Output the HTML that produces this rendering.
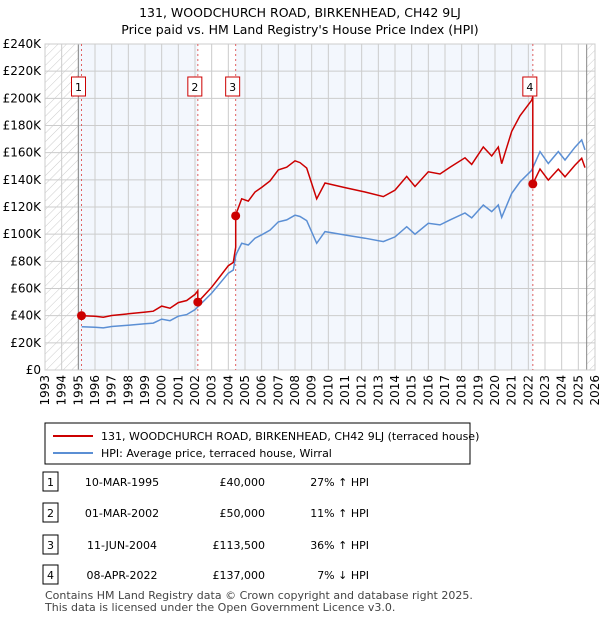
<!DOCTYPE html>
<html><head><meta charset="utf-8"><style>
body{margin:0;background:#fff;font-family:"Liberation Sans","DejaVu Sans",sans-serif;}
svg text{font-family:"DejaVu Sans","Liberation Sans",sans-serif;}
</style></head><body>
<svg id="c" width="600" height="620" xmlns="http://www.w3.org/2000/svg">
<defs><pattern id="hatch" width="6" height="6" patternUnits="userSpaceOnUse" patternTransform="rotate(45)"><line x1="0" y1="0" x2="0" y2="6" stroke="#ccc" stroke-width="1"/></pattern></defs>
<text x="300" y="17" text-anchor="middle" font-size="12.5">131, WOODCHURCH ROAD, BIRKENHEAD, CH42 9LJ</text>
<text x="300" y="34" text-anchor="middle" font-size="12.5">Price paid vs. HM Land Registry's House Price Index (HPI)</text>
<g id="plot"></g>
<rect x="45" y="423" width="425" height="41" fill="#fff" stroke="#000"/>
<line x1="53" y1="436" x2="93" y2="436" stroke="#cc0000" stroke-width="2"/>
<text x="101" y="440" font-size="11">131, WOODCHURCH ROAD, BIRKENHEAD, CH42 9LJ (terraced house)</text>
<line x1="53" y1="453" x2="93" y2="453" stroke="#5b8fd4" stroke-width="2"/>
<text x="101" y="457" font-size="11">HPI: Average price, terraced house, Wirral</text>
<g id="tbl"></g>
<text x="45" y="599" font-size="11" fill="#444">Contains HM Land Registry data © Crown copyright and database right 2025.</text>
<text x="45" y="611" font-size="11" fill="#444">This data is licensed under the Open Government Licence v3.0.</text>
</svg>
<script>
const hpiYears=[1995.2,1996,1996.5,1997,1998,1999,1999.5,2000,2000.5,2001,2001.5,2002,2002.5,2003,2003.5,2004,2004.3,2004.44,2004.5,2004.8,2005.2,2005.6,2006,2006.5,2007,2007.5,2008,2008.3,2008.7,2009.3,2009.8,2011,2012.2,2013.3,2014,2014.7,2015.2,2016,2016.7,2017.3,2018.2,2018.6,2019.3,2019.8,2020.2,2020.4,2021,2021.5,2022.2,2022.7,2023.2,2023.8,2024.2,2024.8,2025.2,2025.4];
const hpiValues=[31.9,31.5,31,32,33,34,34.5,37.5,36.3,39.6,40.8,44.4,50.4,56.6,63.9,71.3,73.6,84,86,93.3,92,97,99.5,103,109,110.5,114,113,110,93.3,101.9,99.4,97,94.5,98,105.5,100,108,106.8,110.5,115.6,112,121.5,116.6,121.5,112.4,130,138.5,147,160.8,152,160.8,154.6,164,169.4,162];
const saleDates=[1995.19,2002.17,2004.44,2022.27];
const salePrices=[40,50,113.5,137];
const saleLabels=["1","2","3","4"];
const saleDateText=["10-MAR-1995","01-MAR-2002","11-JUN-2004","08-APR-2022"];
const salePriceText=["£40,000","£50,000","£113,500","£137,000"];
const saleHpiText=["27% ↑ HPI","11% ↑ HPI","36% ↑ HPI","7% ↓ HPI"];
const yTicks=[0,20,40,60,80,100,120,140,160,180,200,220,240];
const xTicks=[1993,1994,1995,1996,1997,1998,1999,2000,2001,2002,2003,2004,2005,2006,2007,2008,2009,2010,2011,2012,2013,2014,2015,2016,2017,2018,2019,2020,2021,2022,2023,2024,2025,2026];

const NS="http://www.w3.org/2000/svg";
const L=45,R=595,T=44,B=370,X0=1993,X1=2026,YM=240;
const xs=v=>L+(v-X0)/(X1-X0)*(R-L);
const ys=v=>B-v/YM*(B-T);
const plot=document.getElementById('plot');
function mk(tag,at,parent){const e=document.createElementNS(NS,tag);for(const k in at)e.setAttribute(k,at[k]);(parent||plot).appendChild(e);return e;}
function hpiAt(t){if(t<=hpiYears[0])return hpiValues[0];for(let i=1;i<hpiYears.length;i++){if(t<=hpiYears[i]){const f=(t-hpiYears[i-1])/(hpiYears[i]-hpiYears[i-1]);return hpiValues[i-1]+f*(hpiValues[i]-hpiValues[i-1]);}}return hpiValues[hpiValues.length-1];}

let e;
e=mk('rect',{x:L,y:T,width:R-L,height:B-T,fill:'#fff'});

const bandStarts=[1995.0,saleDates[2]],bandEnds=[saleDates[1],saleDates[3]];
for(let i=0;i<2;i++){e=mk('rect',{x:xs(bandStarts[i]),y:T,width:xs(bandEnds[i])-xs(bandStarts[i]),height:B-T,fill:'#eef3fc',opacity:0.7});
}
e=mk('rect',{x:L,y:T,width:xs(1995)-L,height:B-T,fill:'url(#hatch)'});

e=mk('rect',{x:xs(2025.5),y:T,width:R-xs(2025.5),height:B-T,fill:'url(#hatch)'});

yTicks.forEach(v=>{e=mk('line',{x1:L,x2:R,y1:ys(v),y2:ys(v),stroke:'#ccc','stroke-width':1});

e=mk('text',{x:L-4,y:ys(v)+4,'text-anchor':'end','font-size':12});e.textContent='£'+(v?v+'K':'0');
});
xTicks.forEach(v=>{e=mk('line',{x1:xs(v),x2:xs(v),y1:T,y2:B,stroke:'#ccc','stroke-width':1});

e=mk('text',{transform:`translate(${xs(v)+4},${B+5}) rotate(-90)`,'text-anchor':'end','font-size':12});e.textContent=v;
});
[1995,2025.5].forEach(v=>{e=mk('line',{x1:xs(v),x2:xs(v),y1:T,y2:B,stroke:'#888','stroke-width':1});
});
e=mk('rect',{x:L,y:T,width:R-L,height:B-T,fill:'none',stroke:'#ccc'});

saleDates.forEach(d=>{e=mk('line',{x1:xs(d),x2:xs(d),y1:T,y2:B,stroke:'#e06060','stroke-width':1,'stroke-dasharray':'2,3'});
});
let pts=hpiYears.map((t,i)=>xs(t).toFixed(1)+','+ys(hpiValues[i]).toFixed(1)).join(' ');
e=mk('polyline',{points:pts,fill:'none',stroke:'#5b8fd4','stroke-width':1.5});

const ratios=saleDates.map((d,i)=>salePrices[i]/hpiAt(d));
let rp=[];
for(let s=0;s<saleDates.length;s++){
  const start=saleDates[s],end=s+1<saleDates.length?saleDates[s+1]:2025.4;
  rp.push([start,salePrices[s]]);
  hpiYears.forEach((t,i)=>{if(t>start&&t<end)rp.push([t,hpiValues[i]*ratios[s]]);});
  rp.push([end,hpiAt(end)*ratios[s]]);
}
e=mk('polyline',{points:rp.map(p=>xs(p[0]).toFixed(1)+','+ys(p[1]).toFixed(1)).join(' '),fill:'none',stroke:'#cc0000','stroke-width':1.5});

saleDates.forEach((d,i)=>{
  e=mk('circle',{cx:xs(d),cy:ys(salePrices[i]),r:4.5,fill:'#cc0000'});
  
  e=mk('rect',{x:xs(d)-10,y:77,width:14,height:19,fill:'#fff',stroke:'#cc0000'});
  
  e=mk('text',{x:xs(d)-3,y:91,'text-anchor':'middle','font-size':11});e.textContent=saleLabels[i];
  
});
const tbl=document.getElementById('tbl');
const rowY=[482,513,545,575];
saleLabels.forEach((lab,i)=>{
  const y=rowY[i];
  e=mk('rect',{x:43,y:y-10,width:15,height:19,fill:'#fff',stroke:'#000'},tbl);
  
  e=mk('text',{x:50.5,y:y+4,'text-anchor':'middle','font-size':11},tbl);e.textContent=lab;
  
  e=mk('text',{x:122,y:y+4,'text-anchor':'middle','font-size':11},tbl);e.textContent=saleDateText[i];
  
  e=mk('text',{x:265,y:y+4,'text-anchor':'end','font-size':11},tbl);e.textContent=salePriceText[i];
  
  e=mk('text',{x:369,y:y+4,'text-anchor':'end','font-size':11},tbl);e.textContent=saleHpiText[i];
  
});
</script>
</body></html>
